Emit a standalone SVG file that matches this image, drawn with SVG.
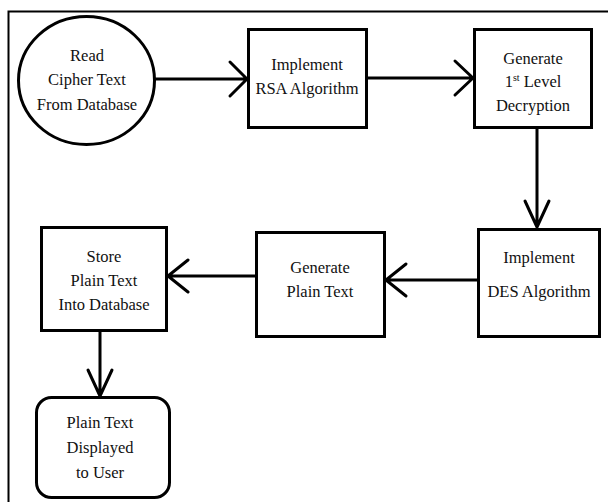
<svg xmlns="http://www.w3.org/2000/svg" width="608" height="502" viewBox="0 0 608 502">
<style>
.n{fill:#fff;stroke:#000;stroke-width:3}
.t{font-family:'Liberation Serif','DejaVu Serif',serif;font-size:16.5px;fill:#111;text-anchor:middle}
.c{fill:none;stroke:#000;stroke-width:3;stroke-linecap:round;stroke-linejoin:round}
</style>
<rect width="608" height="502" fill="#fff"/>
<path d="M8.5 502 V11.5 H608" fill="none" stroke="#000" stroke-width="2"/>
<g id="connectors">
<path class="c" d="M155 79 H247 M230 62 L247 79 L230 96"/>
<path class="c" d="M367 78 H473 M455 61 L473 78 L455 95"/>
<path class="c" d="M537 128 V227 M525 201 L537 227 L549 201"/>
<path class="c" d="M478 280 H386 M406 264 L386 280 L406 296"/>
<path class="c" d="M256 276 H168 M188 260 L168 276 L188 292"/>
<path class="c" d="M100 331 V396 M88 370 L100 396 L112 370"/>
</g>
<g id="read">
<ellipse class="n" cx="86.5" cy="80.5" rx="68" ry="64"/>
<text class="t" x="87" y="61">Read</text>
<text class="t" x="87" y="85">Cipher Text</text>
<text class="t" x="87" y="110">From Database</text>
</g>
<g id="rsa">
<rect class="n" x="248.5" y="29.5" width="118" height="98"/>
<text class="t" x="307" y="70">Implement</text>
<text class="t" x="307" y="94">RSA Algorithm</text>
</g>
<g id="gen1">
<rect class="n" x="474.5" y="29.5" width="117" height="98"/>
<text class="t" x="533" y="64">Generate</text>
<text class="t" x="533" y="87">1<tspan font-size="10" dy="-6">st</tspan><tspan dy="6"> Level</tspan></text>
<text class="t" x="533" y="111">Decryption</text>
</g>
<g id="des">
<rect class="n" x="478.5" y="229.5" width="121" height="107"/>
<text class="t" x="539" y="263">Implement</text>
<text class="t" x="539" y="297">DES Algorithm</text>
</g>
<g id="genplain">
<rect class="n" x="256.5" y="232.5" width="128" height="104"/>
<text class="t" x="320" y="273">Generate</text>
<text class="t" x="320" y="297">Plain Text</text>
</g>
<g id="store">
<rect class="n" x="41.5" y="227.5" width="125" height="103"/>
<text class="t" x="104" y="262">Store</text>
<text class="t" x="104" y="286">Plain Text</text>
<text class="t" x="104" y="310">Into Database</text>
</g>
<g id="display">
<rect class="n" x="36.5" y="397.5" width="133" height="100" rx="15"/>
<text class="t" x="100" y="428">Plain Text</text>
<text class="t" x="100" y="453">Displayed</text>
<text class="t" x="100" y="478">to User</text>
</g>
</svg>
